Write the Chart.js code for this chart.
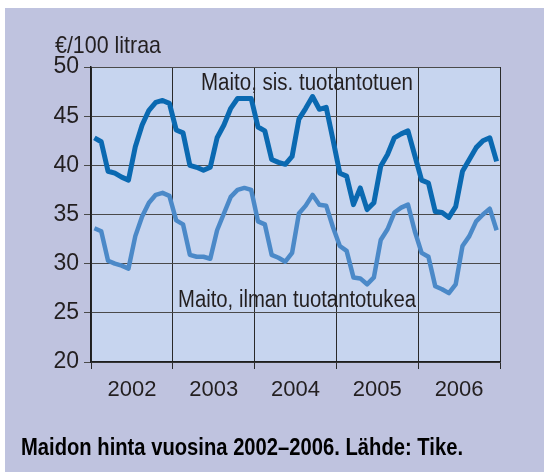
<!DOCTYPE html>
<html>
<head>
<meta charset="utf-8">
<script src="https://cdn.jsdelivr.net/npm/chart.js@4.4.1/dist/chart.umd.min.js"></script>
<style>
  body { margin: 0; background: #fff; width: 544px; height: 472px; overflow: hidden; }
  #panel { position: absolute; left: 5px; top: 8px; width: 539px; height: 464px; background: #bfc3df; }
  #chart { position: absolute; left: 0; top: 0; }
  .lbl { position: absolute; white-space: nowrap; color: #231f20; line-height: 1;
         font-family: 'Liberation Sans', Arial, sans-serif; transform-origin: 0 0; }
</style>
</head>
<body>
<div id="panel"></div>
<canvas id="chart" width="544" height="472"></canvas>
<div class="lbl" data-w="106" style="left:55px; top:33px; font-size:24px;">€/100 litraa</div>
<div class="lbl" data-w="212" style="left:201px; top:71px; font-size:23.5px;">Maito, sis. tuotantotuen</div>
<div class="lbl" data-w="238" style="left:178px; top:288px; font-size:23px;">Maito, ilman tuotantotukea</div>
<div class="lbl" data-w="442" style="left:21px; top:436px; font-size:23px; font-weight:bold; color:#000;">Maidon hinta vuosina 2002–2006. Lähde: Tike.</div>
<script>
// monthly milk prices, €/100 l, Jan 2002 .. Dec 2006
const years = ['2002', '2003', '2004', '2005', '2006'];

const withSubsidy = [
  42.8, 42.4, 39.4, 39.2, 38.8, 38.5, 41.9, 44.1, 45.6, 46.4, 46.6, 46.3,
  43.6, 43.3, 40.0, 39.8, 39.5, 39.8, 42.8, 44.1, 45.8, 46.8, 46.8, 46.8,
  43.9, 43.5, 40.6, 40.3, 40.1, 40.9, 44.7, 45.8, 47.0, 45.7, 45.9, 42.6,
  39.2, 38.9, 36.0, 37.7, 35.5, 36.2, 39.9, 41.1, 42.8, 43.2, 43.5, 41.0,
  38.5, 38.2, 35.3, 35.2, 34.7, 35.8, 39.4, 40.6, 41.8, 42.5, 42.8, 40.4
];

const withoutSubsidy = [
  33.6, 33.3, 30.3, 30.0, 29.8, 29.5, 32.8, 34.8, 36.2, 37.0, 37.2, 36.9,
  34.4, 34.0, 30.9, 30.7, 30.7, 30.5, 33.4, 35.1, 36.8, 37.5, 37.7, 37.5,
  34.3, 34.0, 30.9, 30.6, 30.2, 31.1, 35.1, 35.9, 37.0, 36.0, 35.9, 33.7,
  31.8, 31.3, 28.6, 28.5, 27.9, 28.6, 32.4, 33.5, 35.2, 35.7, 36.0, 33.3,
  31.1, 30.7, 27.7, 27.4, 27.0, 27.9, 31.8, 32.8, 34.3, 35.0, 35.6, 33.4
];

const yMin = 20, yMax = 50, yStep = 5;

const fontFamily = "'Liberation Sans', Arial, sans-serif";

// squeeze the html labels to the narrow look of the original
document.querySelectorAll('.lbl').forEach((el) => {
  const w = el.getBoundingClientRect().width;
  el.style.transform = `scaleX(${el.dataset.w / w})`;
});

// each month sits in the middle of its slot, one year = 12 slots
const toPoints = (arr) => arr.map((v, i) => ({ x: i + 0.5, y: v }));

const plotBackground = {
  id: 'plotBackground',
  beforeDraw(chart) {
    const { ctx, chartArea: a } = chart;
    ctx.save();
    ctx.fillStyle = '#c7d5ef';
    ctx.fillRect(a.left, a.top, a.right - a.left, a.bottom - a.top);
    ctx.restore();
  }
};

new Chart(document.getElementById('chart').getContext('2d'), {
  type: 'line',
  data: {
    datasets: [
      {
        label: 'Maito, sis. tuotantotuen',
        data: toPoints(withSubsidy),
        borderColor: '#0a69b1',
        borderWidth: 5,
        pointRadius: 0,
        tension: 0,
        borderJoinStyle: 'round',
        borderCapStyle: 'butt'
      },
      {
        label: 'Maito, ilman tuotantotukea',
        data: toPoints(withoutSubsidy),
        borderColor: '#4b89c8',
        borderWidth: 4.5,
        pointRadius: 0,
        tension: 0,
        borderJoinStyle: 'round',
        borderCapStyle: 'butt'
      }
    ]
  },
  options: {
    responsive: false,
    animation: false,
    devicePixelRatio: 1,
    layout: { padding: { left: 31, right: 44, top: 67, bottom: 70 } },
    plugins: {
      legend: { display: false },
      tooltip: { enabled: false }
    },
    scales: {
      x: {
        type: 'linear',
        min: 0,
        max: years.length * 12,
        afterFit: (s) => { s.height = 40; },
        ticks: {
          stepSize: 6,
          autoSkip: false,
          maxRotation: 0,
          padding: 8,
          color: '#231f20',
          font: { family: fontFamily, size: 22 },
          callback: (v) => (v % 12 === 6 ? years[(v - 6) / 12] : '')
        },
        grid: {
          color: (c) => (c.tick && c.tick.value % 12 === 0 ? '#2a2a2a' : 'rgba(0,0,0,0)'),
          lineWidth: 1,
          tickLength: 7
        },
        border: { color: '#1e1e1e', width: 1.5 }
      },
      y: {
        min: yMin,
        max: yMax,
        afterFit: (s) => { s.width = 60; },
        ticks: {
          stepSize: yStep,
          padding: 5,
          color: '#231f20',
          font: { family: fontFamily, size: 23 },
          callback: (v) => String(v)
        },
        grid: { color: '#4a4a4a', lineWidth: 1, tickLength: 7 },
        border: { color: '#1e1e1e', width: 1.5 }
      }
    }
  },
  plugins: [plotBackground]
});
</script>
</body>
</html>
